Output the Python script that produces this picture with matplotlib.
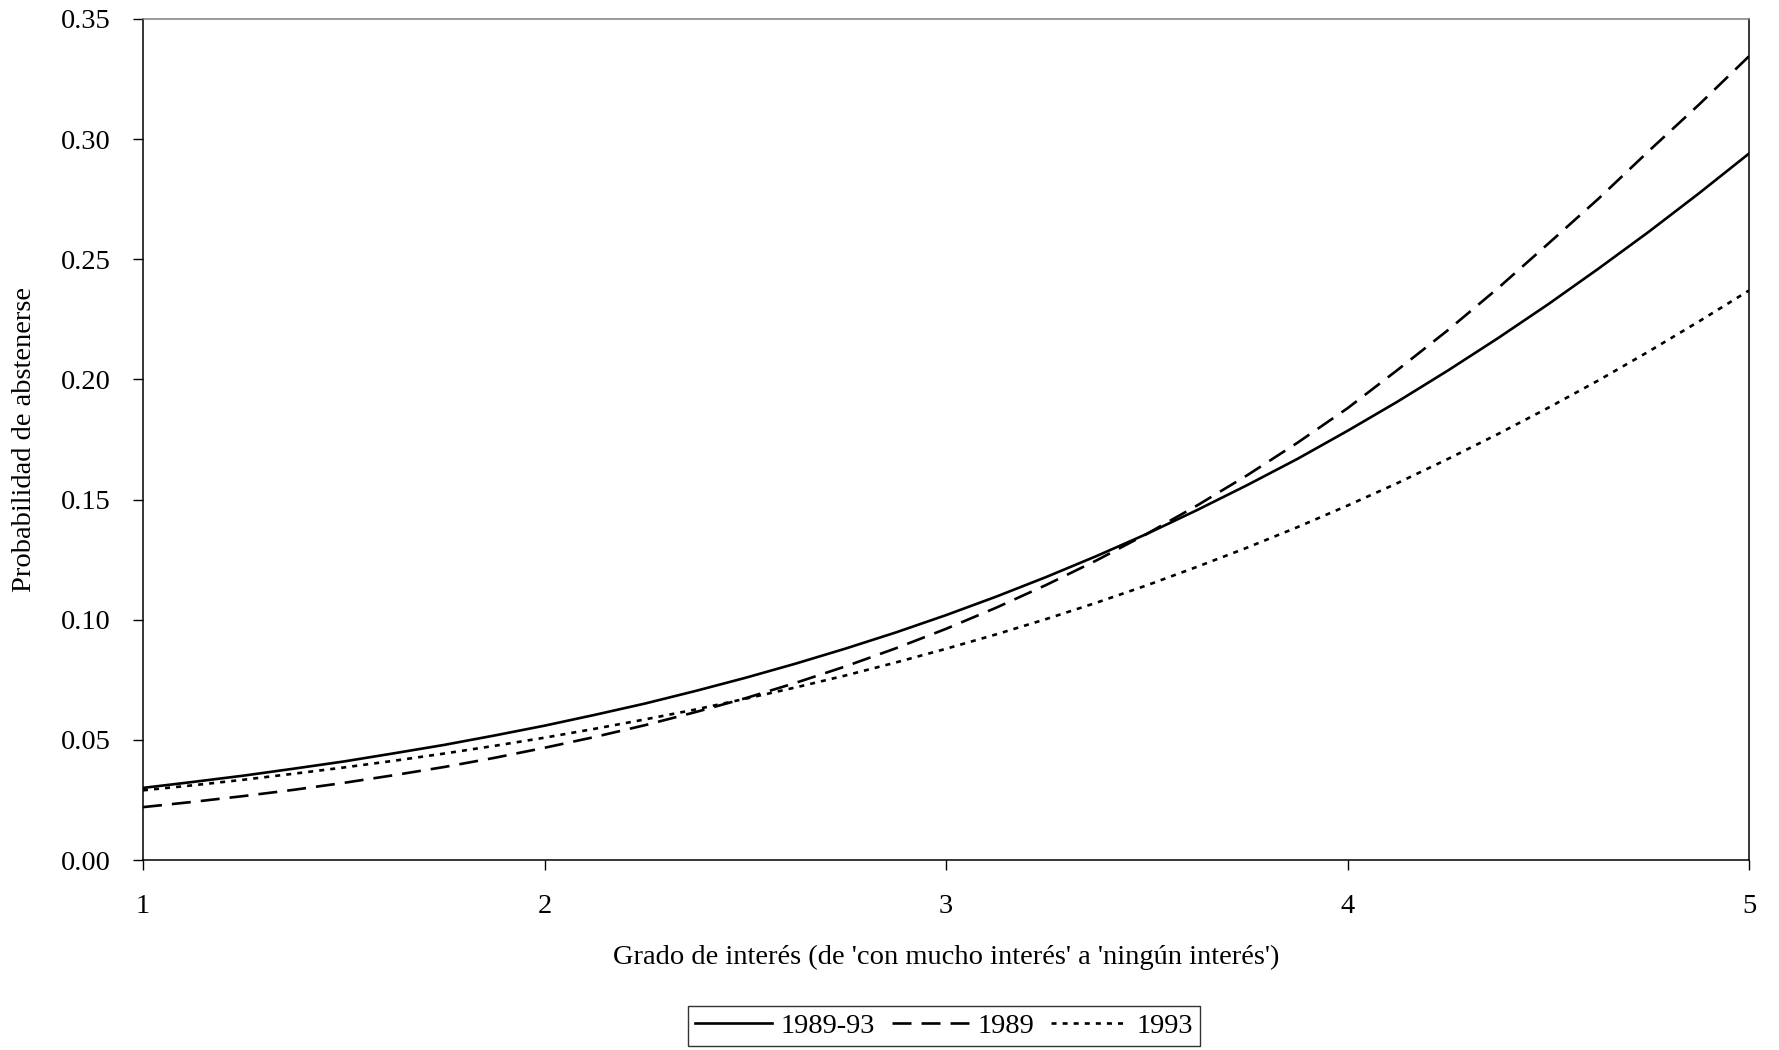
#!/usr/bin/env python3
# plot.py: probabilidad de abstenerse según grado de interés (1989, 1993, 1989-93)

import matplotlib
matplotlib.use("Agg")
import matplotlib.pyplot as plt
from matplotlib.ticker import FormatStrFormatter, MultipleLocator

plt.rcParams['font.family'] = ['Liberation Serif', 'DejaVu Serif']

# Grado de interés (eje x), leído cada 0.125
interes = [1.0, 1.125, 1.25, 1.375, 1.5, 1.625, 1.75, 1.875,
           2.0, 2.125, 2.25, 2.375, 2.5, 2.625, 2.75, 2.875,
           3.0, 3.125, 3.25, 3.375, 3.5, 3.625, 3.75, 3.875,
           4.0, 4.125, 4.25, 4.375, 4.5, 4.625, 4.75, 4.875, 5.0]

# Probabilidad de abstenerse
p_1989_93 = [0.0300, 0.0325, 0.0351, 0.0380, 0.0410, 0.0444, 0.0479, 0.0518,
             0.0559, 0.0604, 0.0651, 0.0703, 0.0758, 0.0817, 0.0880, 0.0947,
             0.1019, 0.1096, 0.1178, 0.1265, 0.1357, 0.1456, 0.1560, 0.1669,
             0.1786, 0.1908, 0.2037, 0.2172, 0.2313, 0.2461, 0.2614, 0.2774, 0.2940]
p_1989 = [0.0220, 0.0242, 0.0266, 0.0292, 0.0321, 0.0353, 0.0387, 0.0425,
          0.0467, 0.0512, 0.0561, 0.0615, 0.0673, 0.0737, 0.0806, 0.0881,
          0.0962, 0.1050, 0.1145, 0.1247, 0.1357, 0.1475, 0.1601, 0.1736,
          0.1880, 0.2040, 0.2205, 0.2380, 0.2565, 0.2752, 0.2950, 0.3143, 0.3345]
p_1993 = [0.0290, 0.0311, 0.0334, 0.0359, 0.0385, 0.0413, 0.0443, 0.0475,
          0.0509, 0.0546, 0.0585, 0.0626, 0.0671, 0.0718, 0.0768, 0.0822,
          0.0879, 0.0939, 0.1003, 0.1071, 0.1143, 0.1220, 0.1300, 0.1385,
          0.1475, 0.1569, 0.1669, 0.1773, 0.1882, 0.1996, 0.2116, 0.2241, 0.2370]

series_labels = ['1989-93', '1989', '1993']

FS = 20.5

fig = plt.figure(figsize=(17.79, 10.5), dpi=100)
ax = fig.add_axes([143 / 1779, 1 - 860 / 1050, 1606 / 1779, 841 / 1050])

lw = 1.9
ax.plot(interes, p_1989_93, color='black', lw=lw, ls='-', label=series_labels[0])
ax.plot(interes, p_1989, color='black', lw=lw, ls=(0, (7.2, 3.8)), label=series_labels[1])
ax.plot(interes, p_1993, color='black', lw=lw, ls=(0, (1.9, 2.3)), label=series_labels[2])

ax.set_xlim(1, 5)
ax.set_ylim(0, 0.35)
ax.xaxis.set_major_locator(MultipleLocator(1))
ax.yaxis.set_major_locator(MultipleLocator(0.05))
ax.yaxis.set_major_formatter(FormatStrFormatter('%.2f'))

ax.tick_params(axis='both', direction='out', length=7.5, width=1.0,
               labelsize=FS, color='black')
ax.tick_params(axis='y', pad=16)
ax.tick_params(axis='x', pad=17)

for side in ['left', 'bottom', 'right']:
    ax.spines[side].set_color('black')
    ax.spines[side].set_linewidth(1.1)
ax.spines['top'].set_color('#808080')
ax.spines['top'].set_linewidth(1.1)

ax.set_xlabel("Grado de interés (de 'con mucho interés' a 'ningún interés')",
              fontsize=FS, va='center')
ax.xaxis.set_label_coords(0.5, (860 - 957) / 841)
ax.set_ylabel('Probabilidad de abstenerse', fontsize=FS, va='center')
ax.yaxis.set_label_coords((25 - 143) / 1606, 0.5)

leg = fig.legend(loc='center', bbox_to_anchor=(944 / 1779, 1 - 1026 / 1050),
                 ncol=3, fontsize=FS, frameon=True, fancybox=False,
                 handlelength=2.7, handletextpad=0.3, columnspacing=0.6,
                 borderpad=0.25, borderaxespad=0)
leg.get_frame().set_edgecolor('black')
leg.get_frame().set_linewidth(1.0)

fig.savefig('out.png', dpi=100, facecolor='white')
